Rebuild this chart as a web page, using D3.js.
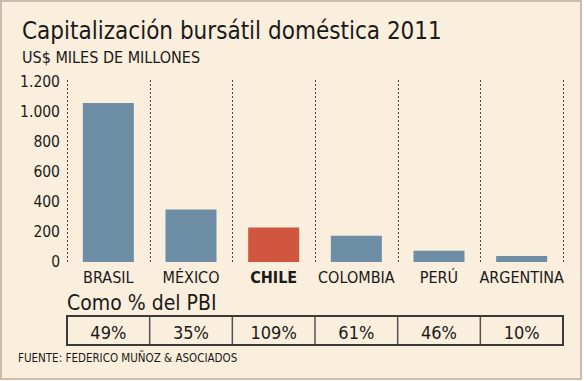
<!DOCTYPE html>
<html>
<head>
<meta charset="utf-8">
<script src="https://cdn.jsdelivr.net/npm/d3@7"></script>
<style>
  body { margin: 0; background: #fff; }
  svg text { font-family: "DejaVu Sans Condensed", "DejaVu Sans", sans-serif; fill: #1a1a1a; }
</style>
</head>
<body>
<div id="chart"></div>
<script>
var w = 584;
var h = 381;

// data
var paises = ["BRASIL", "MÉXICO", "CHILE", "COLOMBIA", "PERÚ", "ARGENTINA"];
var capitalizacion = [1060, 350, 230, 175, 75, 40];
var pctPBI = ["49%", "35%", "109%", "61%", "46%", "10%"];
var yTicks = [0, 200, 400, 600, 800, 1000, 1200];

var datos = paises.map(function(p, i) {
  return { pais: p, valor: capitalizacion[i], pct: pctPBI[i] };
});

var svg = d3.select("#chart").append("svg")
  .attr("width", w)
  .attr("height", h);

// background + frame
svg.append("rect")
  .attr("x", 1).attr("y", 1)
  .attr("width", w - 4).attr("height", h - 3)
  .attr("fill", "#faeedc")
  .attr("stroke", "#cbbcad")
  .attr("stroke-width", 2);

svg.append("text")
  .attr("x", 22).attr("y", 39)
  .style("font-size", "24px")
  .text("Capitalización bursátil doméstica 2011");

svg.append("text")
  .attr("x", 22).attr("y", 63)
  .style("font-size", "16px")
  .text("US$ MILES DE MILLONES");

var left = 67, right = 563, plotTop = 80, base = 262;

var x = d3.scaleBand()
  .domain(paises)
  .range([left, right])
  .paddingInner(0.383)
  .paddingOuter(0.1915);

var y = d3.scaleLinear()
  .domain([0, 1200])
  .range([base, 82]);

var es = d3.formatLocale({ decimal: ",", thousands: ".", grouping: [3], currency: ["$", ""] });

// y axis labels
var yAxis = d3.axisLeft(y)
  .tickValues(yTicks)
  .tickSize(0)
  .tickPadding(7)
  .tickFormat(es.format(",d"));

var gy = svg.append("g")
  .attr("transform", "translate(" + left + ",0)")
  .call(yAxis);
gy.select(".domain").remove();
gy.selectAll("text")
  .style("font-size", "15.5px")
  .attr("fill", "#1a1a1a");

// dashed column separators
var step = x.step();
var seps = d3.range(paises.length + 1).map(function(i) { return left + i * step; });

svg.selectAll("line.sep")
  .data(seps)
  .enter()
  .append("line")
  .attr("class", "sep")
  .attr("x1", function(d) { return Math.round(d) + 0.5; })
  .attr("x2", function(d) { return Math.round(d) + 0.5; })
  .attr("y1", plotTop)
  .attr("y2", base)
  .attr("stroke", "#444")
  .attr("stroke-width", 1)
  .attr("stroke-dasharray", "2,2");

// bars
svg.selectAll("rect.bar")
  .data(datos)
  .enter()
  .append("rect")
  .attr("class", "bar")
  .attr("x", function(d) { return x(d.pais); })
  .attr("width", x.bandwidth())
  .attr("y", function(d) { return y(d.valor); })
  .attr("height", function(d) { return base - y(d.valor); })
  .attr("fill", function(d) { return d.pais == "CHILE" ? "#d1563f" : "#6e8ea6"; });

// category labels
svg.selectAll("text.cat")
  .data(datos)
  .enter()
  .append("text")
  .attr("class", "cat")
  .attr("x", function(d) { return x(d.pais) + x.bandwidth() / 2; })
  .attr("y", 283)
  .attr("text-anchor", "middle")
  .style("font-size", "16px")
  .style("font-weight", function(d) { return d.pais == "CHILE" ? "bold" : "normal"; })
  .text(function(d) { return d.pais; });

svg.append("text")
  .attr("x", 67).attr("y", 310)
  .style("font-size", "21px")
  .text("Como % del PBI");

// table
var tTop = 316, tBot = 345;
svg.selectAll("line.cell")
  .data(seps.slice(1, -1))
  .enter()
  .append("line")
  .attr("class", "cell")
  .attr("x1", function(d) { return d; })
  .attr("x2", function(d) { return d; })
  .attr("y1", tTop)
  .attr("y2", tBot)
  .attr("stroke", "#555")
  .attr("stroke-width", 1.5);

svg.append("rect")
  .attr("x", left).attr("y", tTop)
  .attr("width", right - left).attr("height", tBot - tTop)
  .attr("fill", "none")
  .attr("stroke", "#3a3a3a")
  .attr("stroke-width", 2);

svg.selectAll("text.pct")
  .data(datos)
  .enter()
  .append("text")
  .attr("class", "pct")
  .attr("x", function(d) { return x(d.pais) + x.bandwidth() / 2; })
  .attr("y", 339)
  .attr("text-anchor", "middle")
  .style("font-size", "18px")
  .text(function(d) { return d.pct; });

svg.append("text")
  .attr("x", 18).attr("y", 362)
  .style("font-size", "11.5px")
  .text("FUENTE: FEDERICO MUÑOZ & ASOCIADOS");
</script>
</body>
</html>
